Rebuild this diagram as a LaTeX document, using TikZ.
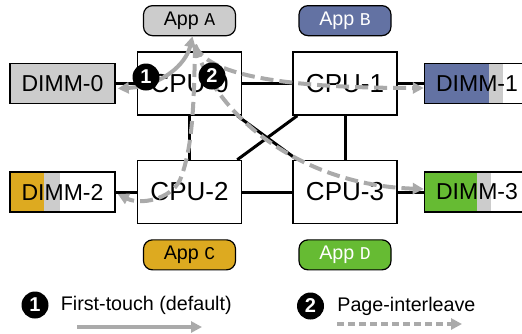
\documentclass[tikz,border=0pt]{standalone}
\usepackage{fontspec}
\setmainfont{Liberation Sans}
\newfontfamily\letterfont{Liberation Mono}
\usetikzlibrary{arrows.meta, positioning}

\definecolor{memgray}{RGB}{204,204,204}
\definecolor{flowgray}{RGB}{170,170,170}
\definecolor{appblue}{RGB}{99,114,163}
\definecolor{appgold}{RGB}{221,170,32}
\definecolor{appgreen}{RGB}{102,187,51}

\newcommand{\appname}[1]{App {\fontsize{18}{20}\selectfont\letterfont #1}}

% fill a DIMM with the owner's share, then the share of App A
\tikzset{share/.style n args={3}{path picture={
  \fill[#1] (path picture bounding box.north west) rectangle ([xshift=#2]path picture bounding box.south west);
  \fill[memgray] ([xshift=#2]path picture bounding box.north west) rectangle ([xshift=#3]path picture bounding box.south west);}}}

\begin{document}
\begin{tikzpicture}[x=1pt, y=-1pt]
  \tikzstyle{cpu} = [rectangle, draw, line width=1.5pt, minimum width=104pt, minimum height=63pt, font=\fontsize{26}{30}\selectfont]
  \tikzstyle{dimm} = [rectangle, draw, line width=1.5pt, minimum width=105pt, minimum height=40pt, font=\fontsize{23}{27}\selectfont]
  \tikzstyle{app} = [rectangle, rounded corners=9pt, draw, line width=1.2pt, minimum width=92pt, minimum height=30pt, inner sep=0pt, font=\fontsize{19.7}{23}\selectfont]
  \tikzstyle{num} = [circle, fill=black, text=white, minimum size=27pt, inner sep=0pt, font=\bfseries\fontsize{20}{20}\selectfont]
  \tikzstyle{key} = [inner sep=0pt, font=\fontsize{19.7}{23}\selectfont]
  \tikzstyle{link} = [line width=3pt]
  \tikzstyle{flow} = [line width=4pt, flowgray, >={Triangle[length=11pt, width=11pt]}]
  \tikzstyle{interleave} = [flow, dash pattern=on 13pt off 6pt]

  \useasboundingbox (0,0) rectangle (522,333);
  \clip (0,0) rectangle (522,333);

  % sockets and their memory
  \node[cpu] (cpu0) at (189.5,83.5) {CPU-0};
  \node[cpu, right=50pt of cpu0] (cpu1) {CPU-1};
  \node[cpu, below=44pt of cpu0] (cpu2) {CPU-2};
  \node[cpu, right=50pt of cpu2] (cpu3) {CPU-3};
  \node[dimm, fill=memgray, left=21pt of cpu0] (dimm0) {DIMM-0};
  \node[dimm, share={appblue}{64pt}{78pt}, right=26pt of cpu1] (dimm1) {DIMM-1};
  \node[dimm, share={appgold}{34pt}{50pt}, left=21pt of cpu2] (dimm2) {DIMM-2};
  \node[dimm, share={appgreen}{52pt}{66pt}, right=26pt of cpu3] (dimm3) {DIMM-3};

  % applications
  \node[app, fill=memgray, above=15pt of cpu0] (appa) {\appname{A}};
  \node[app, fill=appblue, text=white, above=15pt of cpu1] (appb) {\appname{B}};
  \node[app, fill=appgold, below=15pt of cpu2] (appc) {\appname{C}};
  \node[app, fill=appgreen, text=white, below=15pt of cpu3] (appd) {\appname{D}};

  % interconnect
  \draw[link] (dimm0) -- (cpu0);
  \draw[link] (cpu0) -- (cpu1);
  \draw[link] (cpu1) -- (dimm1);
  \draw[link] (dimm2) -- (cpu2);
  \draw[link] (cpu2) -- (cpu3);
  \draw[link] (cpu3) -- (dimm3);
  \draw[link] (cpu0) -- (cpu2);
  \draw[link] (cpu1) -- (cpu3);
  \draw[link] ([xshift=-5pt]cpu0.south east) -- ([xshift=5pt]cpu3.north west);
  \draw[link] ([xshift=5pt]cpu1.south west) -- ([xshift=-5pt]cpu2.north east);

  % page placement of App A
  \coordinate (fork) at (195,45);
  \draw[flow, <->] ([shift={(2,5)}]dimm0.east) .. controls (162,86) and (186,64) .. ([xshift=3pt]appa.south);
  \draw[interleave, ->] (fork) .. controls (205,70) and (260,88) .. ([shift={(0,4.5)}]dimm1.west);
  \draw[interleave, ->] (fork) .. controls (215,115) and (300,185) .. ([shift={(0,-3)}]dimm3.west);
  \draw[interleave, ->] (fork) .. controls (194,110) and (192,150) .. (180,180) .. controls (170,200) and (140,205) .. ([shift={(2,2)}]dimm2.east);

  \node[num] (m1) at (146,77) {1};
  \node[num] (m2) at (212,76) {2};

  % legend
  \node[num] (k1) at (35,305) {1};
  \node[key, right=12pt of k1] (l1) {First-touch (default)};
  \node[num] (k2) at (310.5,306) {2};
  \node[key, right=13pt of k2] (l2) {Page-interleave};
  \coordinate (s1) at (77,327);
  \coordinate (e1) at (202,327);
  \coordinate (s2) at (337,324);
  \coordinate (e2) at (462,324);
  \draw[flow, ->] (s1) -- (e1);
  \draw[interleave, dash pattern=on 7pt off 4pt, ->] (s2) -- (e2);
\end{tikzpicture}
\end{document}
